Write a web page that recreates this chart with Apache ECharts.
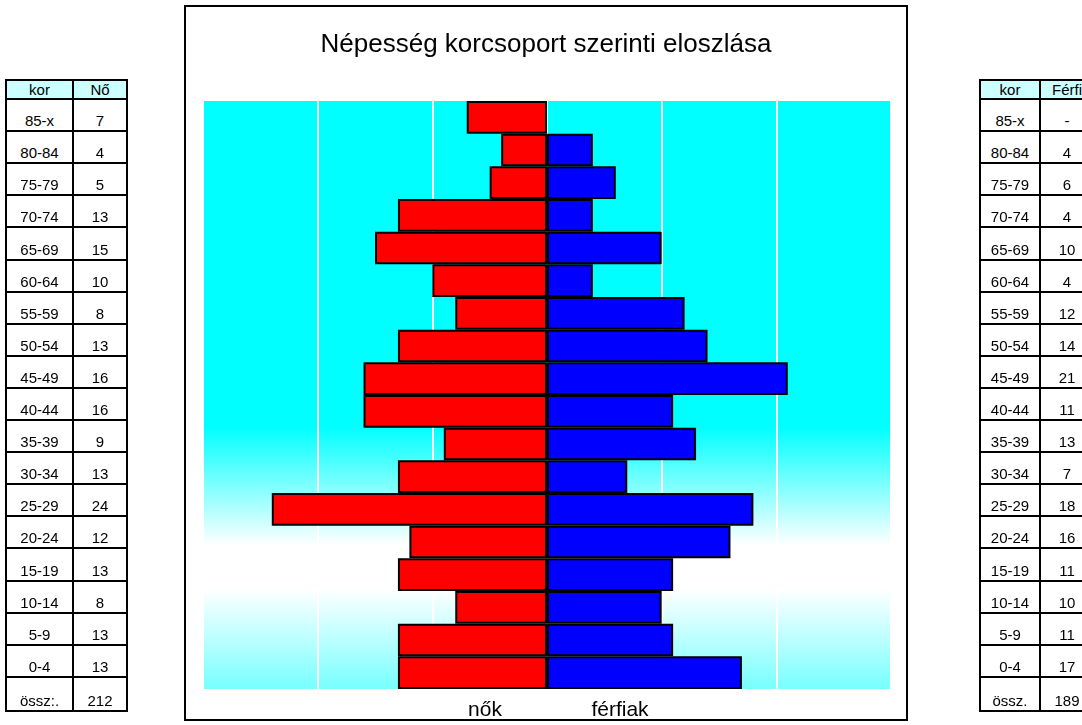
<!DOCTYPE html>
<html>
<head>
<meta charset="utf-8">
<script src="https://cdn.jsdelivr.net/npm/echarts@6/dist/echarts.min.js"></script>
<style>
  html, body { margin: 0; padding: 0; background: #fff; }
  #wrap { position: relative; width: 1082px; height: 725px; overflow: hidden; }
  #chart { position: absolute; left: 0; top: 0; width: 1082px; height: 725px; }
  .cell { position: absolute; box-sizing: border-box; border: 2px solid #000; background: #fff;
          font-family: "Liberation Sans", Arial, sans-serif; font-size: 15px; color: #000;
          display: flex; justify-content: center; align-items: flex-end; line-height: 17px;
          padding-bottom: 1px; white-space: nowrap; overflow: hidden; }
  .cell.head { background: #CCFFFF; align-items: center; padding-bottom: 0; }
</style>
</head>
<body>
<div id="wrap">
  <div id="chart"></div>
</div>
<script>
// ---- data ----
const ageGroups = ['85-x','80-84','75-79','70-74','65-69','60-64','55-59','50-54','45-49','40-44','35-39','30-34','25-29','20-24','15-19','10-14','5-9','0-4'];
const women = [7,4,5,13,15,10,8,13,16,16,9,13,24,12,13,8,13,13];
const men   = [0,4,6,4,10,4,12,14,21,11,13,7,18,16,11,10,11,17];
const womenTotal = 212;
const menTotal = 189;
const titleText = 'Népesség korcsoport szerinti eloszlása';
const womenLabel = 'nők';
const menLabel = 'férfiak';
const leftHeader = ['kor', 'Nő'];
const rightHeader = ['kor', 'Férfi'];
const leftTotalLabel = 'össz:.';
const rightTotalLabel = 'össz.';

// ---- side tables (HTML) ----
function buildTable(cols, header, values, totalLabel, total) {
  const wrap = document.getElementById('wrap');
  const rowsY = [80, 99];
  for (let i = 1; i <= ageGroups.length; i++) rowsY.push(Math.round(99 + i * 32.1));
  rowsY.push(711);
  const rows = [header];
  ageGroups.forEach((g, i) => rows.push([g, values[i] === 0 ? '-' : String(values[i])]));
  rows.push([totalLabel, String(total)]);
  rows.forEach((r, ri) => {
    for (let c = 0; c < 2; c++) {
      const d = document.createElement('div');
      d.className = 'cell' + (ri === 0 ? ' head' : '');
      const x0 = cols[c], x1 = cols[c + 1];
      const y0 = rowsY[ri], y1 = rowsY[ri + 1];
      d.style.left = (x0 - 1) + 'px';
      d.style.top = (y0 - 1) + 'px';
      d.style.width = (x1 - x0 + 2) + 'px';
      d.style.height = (y1 - y0 + 2) + 'px';
      d.textContent = r[c];
      wrap.appendChild(d);
    }
  });
}
buildTable([6, 73, 127], leftHeader, women, leftTotalLabel, womenTotal);
buildTable([980, 1040, 1094], rightHeader, men, rightTotalLabel, menTotal);

// ---- chart ----
const chart = echarts.init(document.getElementById('chart'), null, { renderer: 'canvas' });
const font = '"Liberation Sans", Arial, sans-serif';
const option = {
  backgroundColor: 'transparent',
  animation: false,
  grid: {
    left: 203, right: 191, top: 101, bottom: 36,
    show: true,
    borderWidth: 0,
    backgroundColor: {
      type: 'linear', x: 0, y: 0, x2: 0, y2: 1,
      colorStops: [
        { offset: 0, color: '#00FFFF' },
        { offset: 0.555, color: '#00FFFF' },
        { offset: 0.755, color: '#FFFFFF' },
        { offset: 0.83, color: '#FFFFFF' },
        { offset: 1, color: '#77FFFF' }
      ]
    }
  },
  xAxis: {
    type: 'value', min: -30, max: 30, interval: 10,
    axisLine: { show: false }, axisTick: { show: false }, axisLabel: { show: false },
    splitLine: { show: true, lineStyle: { color: '#FFFFFF', width: 2 } }
  },
  yAxis: {
    type: 'category', data: ageGroups, inverse: true,
    axisLine: { show: false }, axisTick: { show: false }, axisLabel: { show: false },
    splitLine: { show: false }
  },
  series: [
    {
      name: womenLabel, type: 'bar',
      data: women.map(v => -v),
      barGap: '-100%', barCategoryGap: '0%',
      itemStyle: { color: '#FF0000', borderColor: '#000000', borderWidth: 2 }
    },
    {
      name: menLabel, type: 'bar',
      data: men.map(v => v === 0 ? null : v),
      barGap: '-100%', barCategoryGap: '0%',
      itemStyle: { color: '#0000FF', borderColor: '#000000', borderWidth: 2 }
    }
  ],
  graphic: [
    { type: 'rect', shape: { x: 185, y: 6, width: 722, height: 714 },
      style: { fill: 'none', stroke: '#000', lineWidth: 2 }, z: 100 },
    { type: 'text', x: 546, y: 45,
      style: { text: titleText, font: '26px ' + font, fill: '#000', textAlign: 'center', textVerticalAlign: 'middle' } },
    { type: 'text', x: 485, y: 710,
      style: { text: womenLabel, font: '21px ' + font, fill: '#000', textAlign: 'center', textVerticalAlign: 'middle' } },
    { type: 'text', x: 620, y: 710,
      style: { text: menLabel, font: '21px ' + font, fill: '#000', textAlign: 'center', textVerticalAlign: 'middle' } }
  ]
};
chart.setOption(option);
</script>
</body>
</html>
